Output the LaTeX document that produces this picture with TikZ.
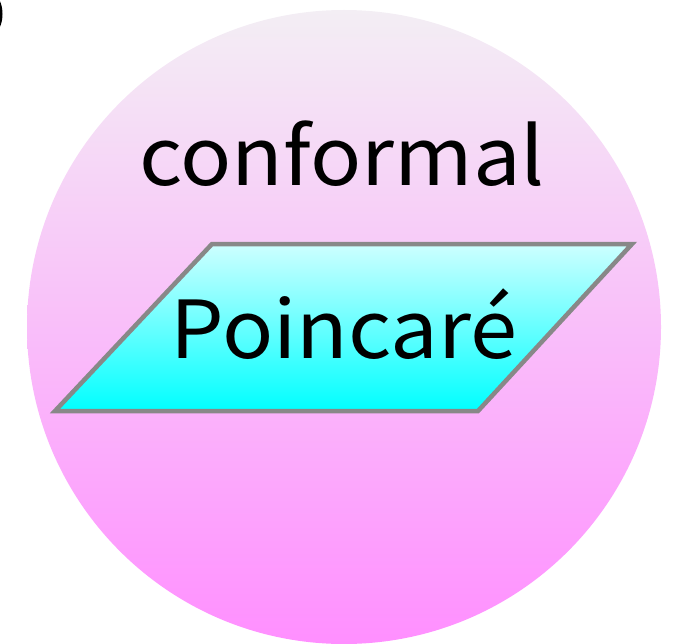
\documentclass[tikz,border=0pt]{standalone}
\usepackage{fontspec}
\setmainfont{Noto Sans CJK JP}[FakeStretch=1.06]
\definecolor{circtop}{RGB}{243,238,244}
\definecolor{circbot}{RGB}{255,143,255}
\definecolor{partop}{RGB}{205,255,255}
\definecolor{parbot}{RGB}{0,255,255}
\definecolor{edgegray}{RGB}{136,136,136}
\tikzset{
  bigtext/.style={font=\fontsize{80}{90}\selectfont, text=black, inner sep=0pt},
}
\begin{document}
\begin{tikzpicture}[x=1pt,y=-1pt]
\useasboundingbox (0,0) rectangle (679,644);
% circle
\shade[top color=circtop, bottom color=circbot] (344,327) circle (317);
% parallelogram
\shade[top color=partop, bottom color=parbot] (212,244) -- (632,244) -- (478,411) -- (55,411) -- cycle;
\draw[edgegray, line width=4.5pt, line join=miter] (212,244) -- (632,244) -- (478,411) -- (55,411) -- cycle;
% texts
\node[bigtext, anchor=base] (conf) at (342,186) {conformal};
\node[bigtext, anchor=base] (poin) at (344,358) {Poincaré};
% partial mark at top-left
\draw[black, line width=3pt] (-8,14) ellipse (9 and 18);
\end{tikzpicture}
\end{document}
